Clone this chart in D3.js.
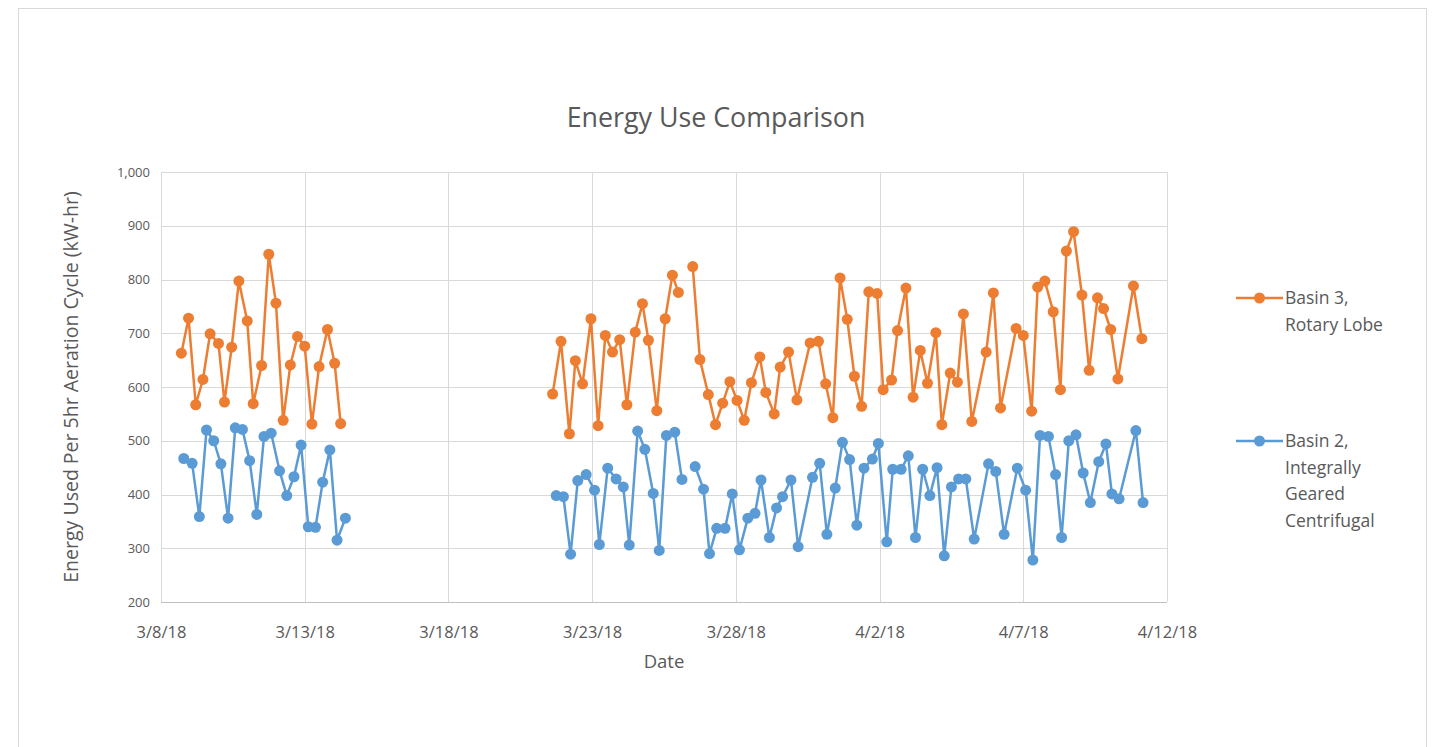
<!DOCTYPE html>
<html>
<head>
<meta charset="utf-8">
<title>Energy Use Comparison</title>
<script src="https://d3js.org/d3.v7.min.js"></script>
<style>
  body { margin: 0; background: #fff; }
  text { font-family: "Open Sans", "Noto Sans", sans-serif; fill: #595959; }
</style>
</head>
<body>
<div id="chart"></div>
<script>
// Basin 3, Rotary Lobe (null = missing cycle, breaks the line)
const basin3Time = [
  "3/8/18 17:00","3/8/18 23:00","3/9/18 05:00","3/9/18 11:00","3/9/18 17:00","3/10/18 00:00",
  "3/10/18 05:00","3/10/18 11:00","3/10/18 17:00","3/11/18 00:00","3/11/18 05:00","3/11/18 12:00",
  "3/11/18 18:00","3/12/18 00:00","3/12/18 06:00","3/12/18 12:00","3/12/18 18:00","3/13/18 00:00",
  "3/13/18 06:00","3/13/18 12:00","3/13/18 19:00","3/14/18 01:00","3/14/18 06:00","3/14/18 12:00",
  "3/21/18 15:00","3/21/18 22:00","3/22/18 05:00","3/22/18 10:00","3/22/18 16:00","3/22/18 23:00",
  "3/23/18 05:00","3/23/18 11:00","3/23/18 17:00","3/23/18 23:00","3/24/18 05:00","3/24/18 12:00",
  "3/24/18 18:00","3/24/18 23:00","3/25/18 06:00","3/25/18 13:00","3/25/18 19:00","3/26/18 00:00",
  "3/26/18 06:00","3/26/18 12:00","3/26/18 18:00","3/27/18 01:00","3/27/18 07:00","3/27/18 13:00",
  "3/27/18 19:00","3/28/18 01:00","3/28/18 07:00","3/28/18 13:00","3/28/18 20:00","3/29/18 01:00",
  "3/29/18 08:00","3/29/18 13:00","3/29/18 20:00","3/30/18 03:00","3/30/18 14:00","3/30/18 21:00",
  "3/31/18 03:00","3/31/18 09:00","3/31/18 15:00","3/31/18 21:00","4/1/18 03:00","4/1/18 09:00",
  "4/1/18 15:00","4/1/18 22:00","4/2/18 03:00","4/2/18 10:00","4/2/18 15:00","4/2/18 22:00",
  "4/3/18 04:00","4/3/18 10:00","4/3/18 16:00","4/3/18 23:00","4/4/18 04:00","4/4/18 11:00",
  "4/4/18 17:00","4/4/18 22:00","4/5/18 05:00","4/5/18 17:00","4/5/18 23:00","4/6/18 05:00",
  "4/6/18 18:00","4/7/18 00:00","4/7/18 07:00","4/7/18 12:00","4/7/18 18:00","4/8/18 01:00",
  "4/8/18 07:00","4/8/18 12:00","4/8/18 18:00","4/9/18 01:00","4/9/18 07:00","4/9/18 14:00",
  "4/9/18 19:00","4/10/18 01:00","4/10/18 07:00","4/10/18 20:00","4/11/18 03:00"
];
const basin3Energy = [
  663, 728, 567, 614, 699, 681,
  572, 674, 797, 723, 569, 640,
  847, 756, 538, 641, 694, 676,
  531, 638, 707, 644, 532, null,
  587, 685, 513, 649, 606, 727,
  528, 696, 665, 688, 567, 702,
  755, 687, 556, 727, 808, 776,
  null, 824, 651, 586, 530, 570,
  610, 575, 538, 608, 656, 590,
  550, 637, 665, 576, 682, 685,
  606, 543, 803, 726, 620, 564,
  777, 774, 595, 613, 705, 784,
  581, 668, 607, 701, 530, 626,
  609, 736, 536, 665, 775, 561,
  709, 696, 555, 786, 797, 740,
  595, 853, 889, 771, 631, 766,
  746, 707, 615, 788, 690
];

// Basin 2, Integrally Geared Centrifugal
const basin2Time = [
  "3/8/18 19:00","3/9/18 02:00","3/9/18 08:00","3/9/18 14:00","3/9/18 20:00","3/10/18 02:00",
  "3/10/18 08:00","3/10/18 14:00","3/10/18 20:00","3/11/18 02:00","3/11/18 08:00","3/11/18 14:00",
  "3/11/18 20:00","3/12/18 03:00","3/12/18 09:00","3/12/18 15:00","3/12/18 21:00","3/13/18 03:00",
  "3/13/18 09:00","3/13/18 15:00","3/13/18 21:00","3/14/18 03:00","3/14/18 10:00","3/14/18 16:00",
  "3/21/18 18:00","3/22/18 00:00","3/22/18 06:00","3/22/18 12:00","3/22/18 19:00","3/23/18 02:00",
  "3/23/18 06:00","3/23/18 13:00","3/23/18 20:00","3/24/18 02:00","3/24/18 07:00","3/24/18 14:00",
  "3/24/18 20:00","3/25/18 03:00","3/25/18 08:00","3/25/18 14:00","3/25/18 21:00","3/26/18 03:00",
  "3/26/18 09:00","3/26/18 14:00","3/26/18 21:00","3/27/18 02:00","3/27/18 08:00","3/27/18 15:00",
  "3/27/18 21:00","3/28/18 03:00","3/28/18 10:00","3/28/18 16:00","3/28/18 21:00","3/29/18 04:00",
  "3/29/18 10:00","3/29/18 15:00","3/29/18 22:00","3/30/18 04:00","3/30/18 16:00","3/30/18 22:00",
  "3/31/18 04:00","3/31/18 11:00","3/31/18 17:00","3/31/18 23:00","4/1/18 05:00","4/1/18 11:00",
  "4/1/18 18:00","4/1/18 23:00","4/2/18 06:00","4/2/18 11:00","4/2/18 18:00","4/3/18 00:00",
  "4/3/18 06:00","4/3/18 12:00","4/3/18 18:00","4/4/18 00:00","4/4/18 06:00","4/4/18 12:00",
  "4/4/18 18:00","4/5/18 00:00","4/5/18 07:00","4/5/18 19:00","4/6/18 01:00","4/6/18 08:00",
  "4/6/18 19:00","4/7/18 02:00","4/7/18 08:00","4/7/18 14:00","4/7/18 21:00","4/8/18 03:00",
  "4/8/18 08:00","4/8/18 14:00","4/8/18 20:00","4/9/18 02:00","4/9/18 08:00","4/9/18 15:00",
  "4/9/18 21:00","4/10/18 02:00","4/10/18 08:00","4/10/18 22:00","4/11/18 04:00"
];
const basin2Energy = [
  467, 458, 359, 520, 500, 457,
  356, 524, 521, 463, 363, 508,
  514, 444, 398, 433, 492, 340,
  339, 423, 483, 315, 356, null,
  398, 396, 289, 426, 437, 408,
  307, 449, 429, 414, 306, 518,
  484, 402, 296, 510, 516, 428,
  null, 452, 410, 290, 337, 337,
  401, 297, 356, 365, 427, 320,
  375, 396, 427, 303, 432, 458,
  326, 412, 497, 465, 343, 449,
  466, 495, 312, 447, 447, 472,
  320, 447, 398, 450, 286, 414,
  429, 429, 317, 457, 443, 326,
  449, 408, 278, 510, 508, 437,
  320, 500, 511, 440, 385, 461,
  494, 401, 392, 519, 385
];

const dateTicks = ["3/8/18","3/13/18","3/18/18","3/23/18","3/28/18","4/2/18","4/7/18","4/12/18"];
const energyTicks = [200, 300, 400, 500, 600, 700, 800, 900, 1000];

const seriesNames = [["Basin 3,", "Rotary Lobe"], ["Basin 2,", "Integrally", "Geared", "Centrifugal"]];
const seriesColors = ["#ED7D31", "#5B9BD5"];

const width = 1434, height = 747;
const margin = { left: 161, right: 267, top: 172, bottom: 145 };

const parseTime = d3.utcParse("%m/%d/%y %H:%M");
const parseDay = d3.utcParse("%m/%d/%y");
const fmtDay = d3.utcFormat("%-m/%-d/%y");

const series = [
  basin3Time.map((t, i) => ({ t: parseTime(t), v: basin3Energy[i] })),
  basin2Time.map((t, i) => ({ t: parseTime(t), v: basin2Energy[i] }))
];

const svg = d3.select("#chart").append("svg")
  .attr("width", width)
  .attr("height", height);

svg.append("rect")
  .attr("x", 18.5).attr("y", 8.5)
  .attr("width", 1408).attr("height", 780)
  .attr("fill", "#fff")
  .attr("stroke", "#d9d9d9");

const tickDates = dateTicks.map(parseDay);

const x = d3.scaleUtc()
  .domain(d3.extent(tickDates))
  .range([margin.left, width - margin.right]);

const y = d3.scaleLinear()
  .domain([200, 1000])
  .range([height - margin.bottom, margin.top]);

// grid
svg.append("g")
  .selectAll("line")
  .data(energyTicks)
  .join("line")
  .attr("x1", margin.left).attr("x2", width - margin.right)
  .attr("y1", d => Math.round(y(d)) + 0.5).attr("y2", d => Math.round(y(d)) + 0.5)
  .attr("stroke", d => d === 200 ? "#bfbfbf" : "#d9d9d9");

svg.append("g")
  .selectAll("line")
  .data(tickDates)
  .join("line")
  .attr("x1", d => Math.round(x(d)) + 0.5).attr("x2", d => Math.round(x(d)) + 0.5)
  .attr("y1", y(1000)).attr("y2", y(200))
  .attr("stroke", "#d9d9d9");

// axes (labels only)
const yAxis = svg.append("g")
  .attr("transform", `translate(${margin.left - 11},0)`)
  .call(d3.axisLeft(y).tickValues(energyTicks).tickFormat(d3.format(",")).tickSize(0).tickPadding(0));
yAxis.select(".domain").remove();
yAxis.selectAll("text").attr("font-size", 13).attr("fill", "#595959")
  .attr("font-family", "'Open Sans', sans-serif");

const xAxis = svg.append("g")
  .attr("transform", `translate(0,${y(200) + 24})`)
  .call(d3.axisBottom(x).tickValues(tickDates).tickFormat(fmtDay).tickSize(0).tickPadding(0));
xAxis.select(".domain").remove();
xAxis.selectAll("text").attr("font-size", 16.5).attr("fill", "#595959")
  .attr("font-family", "'Open Sans', sans-serif");

// lines and markers
const line = d3.line()
  .defined(d => d.v !== null)
  .x(d => x(d.t))
  .y(d => y(d.v));

series.forEach((s, i) => {
  svg.append("path")
    .datum(s)
    .attr("fill", "none")
    .attr("stroke", seriesColors[i])
    .attr("stroke-width", 2.5)
    .attr("stroke-linejoin", "round")
    .attr("d", line);

  svg.append("g")
    .selectAll("circle")
    .data(s.filter(d => d.v !== null))
    .join("circle")
    .attr("cx", d => x(d.t))
    .attr("cy", d => y(d.v))
    .attr("r", 5.5)
    .attr("fill", seriesColors[i]);
});

// titles
svg.append("text")
  .attr("x", 716).attr("y", 127)
  .attr("text-anchor", "middle")
  .attr("font-size", 26.8)
  .text("Energy Use Comparison");

svg.append("text")
  .attr("transform", `translate(78,${(y(200) + y(1000)) / 2}) rotate(-90)`)
  .attr("text-anchor", "middle")
  .attr("font-size", 19.5)
  .text("Energy Used Per 5hr Aeration Cycle (kW-hr)");

svg.append("text")
  .attr("x", 664).attr("y", 668)
  .attr("text-anchor", "middle")
  .attr("font-size", 18.5)
  .text("Date");

// legend
const legendY = [298, 441];
const legend = svg.append("g");
seriesNames.forEach((lines, i) => {
  const g = legend.append("g").attr("transform", `translate(1236,${legendY[i]})`);
  g.append("line").attr("x1", 0).attr("x2", 47).attr("stroke", seriesColors[i]).attr("stroke-width", 2.5);
  g.append("circle").attr("cx", 23.5).attr("r", 5.5).attr("fill", seriesColors[i]);
  g.selectAll("text")
    .data(lines)
    .join("text")
    .attr("x", 49)
    .attr("y", (d, j) => j * 26.5 + 6)
    .attr("font-size", 17.5)
    .text(d => d);
});
</script>
</body>
</html>
